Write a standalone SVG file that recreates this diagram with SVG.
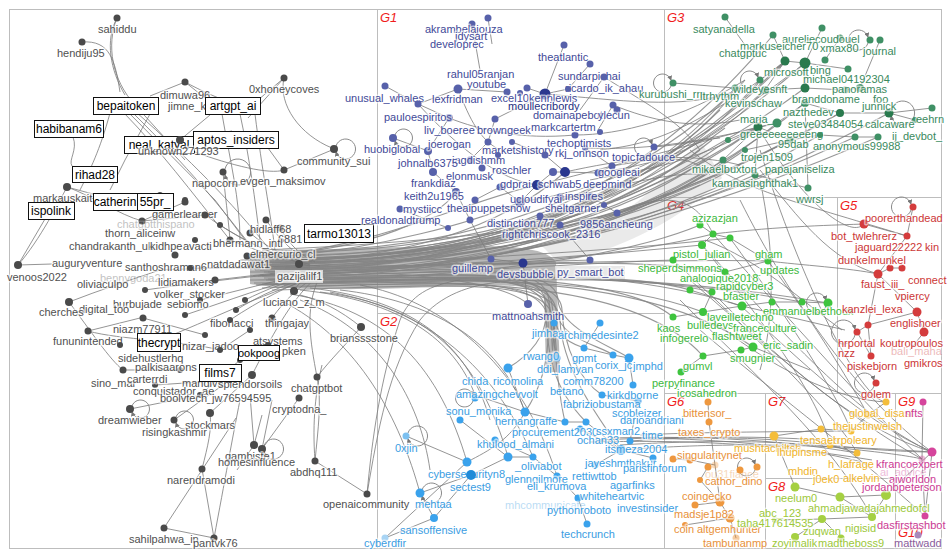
<svg xmlns="http://www.w3.org/2000/svg" width="950" height="557" viewBox="0 0 950 557">
<defs>
<marker id="ar" viewBox="0 0 6 6" refX="5" refY="3" markerWidth="5" markerHeight="5" markerUnits="userSpaceOnUse" orient="auto"><path d="M0,0L6,3L0,6z" fill="#777"/></marker>
</defs>
<style>
.frame{fill:none;stroke:#bdbdbd;stroke-width:1}
.gl{font-family:"Liberation Sans",Arial,sans-serif;font-size:13px;font-style:italic;fill:#f01c1c;stroke:none}
.e{fill:none;stroke:#7a7a7a;stroke-width:1;stroke-opacity:.8}
.b{fill:none;stroke:#858585;stroke-width:1.1;stroke-opacity:.85}
.lp{fill:none;stroke:#8a8a8a;stroke-width:1;marker-end:url(#ar)}
text{font-family:"Liberation Sans",Arial,sans-serif;font-size:11px;paint-order:stroke;stroke:#fff;stroke-opacity:.6;stroke-width:3px;stroke-linejoin:round}
.c0{fill:#4a4a4a}.t0{fill:#505050}
.c1{fill:#5761aa}.c1d{fill:#2a378e}.t1{fill:#3f4a98}
.c2{fill:#3aa2ec}.t2{fill:#3a9de2}
.c3{fill:#3f9065}.c3d{fill:#2a7a4e}.t3{fill:#3a8a5e}
.c4{fill:#3ec43e}.t4{fill:#3cb83c}
.c5{fill:#d43c3c}.t5{fill:#cc3636}
.c6{fill:#ee983f}.t6{fill:#e8913a}
.c7{fill:#f4bd3a}.t7{fill:#efb42b}
.c8{fill:#a5d042}.t8{fill:#9cc83a}
.c9{fill:#d5459c}.t9{fill:#cc3a94}
.c10{fill:#a88abb}.t10{fill:#8a5c9c}
.bx rect{fill:#fff;stroke:#111;stroke-width:1}
.bx text{fill:#000;font-size:12px;stroke:none;text-anchor:middle}
.f{opacity:.35}
.hl{fill:#e4e4e4;fill-opacity:.85}
.dense{fill:#8a8a8a}
</style>
<rect width="950" height="557" fill="#fff"/>

<g id="groups">
<rect class="frame" x="9.5" y="9.5" width="932" height="539"/>
<path class="frame" d="M377.5,9.5V548.5M377.5,313.5H664.5M664.5,9.5V548.5M664.5,197.5H941.5M837.5,197.5V393.5M664.5,393.5H941.5M765.5,393.5V548.5M765.5,478.5H895.5M895.5,393.5V548.5M895.5,523.5H941.5"/>
<text class="gl" x="380" y="22">G1</text>
<text class="gl" x="380" y="326">G2</text>
<text class="gl" x="667" y="22">G3</text>
<text class="gl" x="667" y="210">G4</text>
<text class="gl" x="840" y="210">G5</text>
<text class="gl" x="667" y="406">G6</text>
<text class="gl" x="768" y="406">G7</text>
<text class="gl" x="768" y="491">G8</text>
<text class="gl" x="898" y="406">G9</text>
<text class="gl" x="898" y="537">G10</text>
</g>

<g id="connectors">
<path class="dense" fill-opacity=".6" d="M250,255 C330,248 420,246 480,246 C520,246 548,250 556,262 L560,372 L546,372 L544,292 C530,282 470,286 410,288 C340,290 290,290 250,284 Z"/>
<path class="dense" fill-opacity=".18" d="M540,244 C600,236 650,200 700,140 L722,178 C680,222 620,248 560,264 Z"/>
<!-- bundle to G3 -->
<path class="b" d="M262,258 C420,262 590,235 700,150"/>
<path class="b" d="M258,262 C420,266 600,232 712,140"/>
<path class="b" d="M265,255 C430,258 600,225 725,128"/>
<path class="b" d="M270,266 C430,268 610,238 740,165"/>
<path class="b" d="M255,270 C420,270 600,240 705,175"/>
<path class="b" d="M275,260 C440,262 620,220 758,127"/>
<path class="b" d="M268,272 C430,270 620,230 785,62"/>
<path class="b" d="M280,263 C440,265 630,215 805,63"/>
<path class="b" d="M250,265 C420,262 620,240 840,113"/>
<path class="b" d="M262,276 C430,274 640,250 889,113"/>
<path class="b" d="M272,250 C430,255 600,215 733,92"/>
<path class="b" d="M285,268 C440,266 620,235 745,80"/>
<path class="b" d="M240,260 C400,262 590,232 700,185"/>
<path class="b" d="M290,258 C450,260 610,220 720,110"/>
<path class="b" d="M246,268 C410,270 600,246 723,160"/>
<path class="b" d="M278,278 C440,276 630,246 777,123"/>
<path class="b" d="M252,252 C420,256 610,228 765,90"/>
<path class="b" d="M294,274 C450,272 640,238 805,103"/>
<path class="b" d="M258,258 C425,260 605,230 728,140"/>
<path class="b" d="M264,272 C430,272 615,242 745,150"/>
<path class="b" d="M272,264 C435,266 612,232 758,127"/>
<path class="b" d="M248,262 C415,264 598,236 705,160"/>
<path class="b" d="M282,258 C445,260 622,222 785,61"/>
<path class="b" d="M260,266 C425,268 610,236 790,140"/>
<path class="b" d="M276,272 C440,272 630,246 820,135"/>
<path class="b" d="M254,276 C420,276 612,250 855,137"/>
<path class="b" d="M286,262 C450,262 628,232 840,113"/>
<path class="b" d="M266,256 C430,258 616,226 805,88"/>
<path class="b" d="M256,264 C422,266 606,238 735,88"/>
<path class="b" d="M274,268 C438,268 618,240 760,80"/>
<path class="b" d="M284,272 C446,272 632,244 878,137"/>
<path class="b" d="M244,266 C412,268 602,242 755,175"/>
<path class="b" d="M268,260 C432,262 612,230 773,35"/>
<!-- bundle to G4 -->
<path class="b" d="M262,268 C430,270 600,255 702,245"/>
<path class="b" d="M270,274 C430,272 610,260 713,234"/>
<path class="b" d="M258,276 C420,276 600,262 673,260"/>
<path class="b" d="M276,270 C440,272 620,265 741,306"/>
<path class="b" d="M266,280 C430,278 620,268 802,302"/>
<path class="b" d="M282,276 C450,276 640,270 828,303"/>
<path class="b" d="M254,283 C420,281 600,272 703,312"/>
<path class="b" d="M286,266 C450,268 640,258 768,261"/>
<path class="b" d="M260,262 C430,264 620,250 730,238"/>
<path class="b" d="M270,280 C435,280 612,262 700,225"/>
<path class="b" d="M262,284 C430,282 610,266 690,290"/>
<path class="b" d="M278,284 C445,284 626,270 712,292"/>
<path class="b" d="M250,272 C420,272 600,252 725,272"/>
<path class="b" d="M290,280 C455,280 640,270 753,347"/>
<path class="b" d="M264,278 C430,278 615,268 673,317"/>
<path class="b" d="M280,282 C445,282 630,275 703,356"/>
<!-- bundle to G1 -->
<path class="b" d="M260,270 C380,268 460,262 523,263"/>
<path class="b" d="M270,262 C380,262 450,258 491,259"/>
<path class="b" d="M280,270 C400,268 520,262 590,260"/>
<path class="b" d="M265,258 C380,250 480,220 520,202"/>
<path class="b" d="M275,255 C380,245 470,200 537,185"/>
<path class="b" d="M285,262 C400,258 500,230 565,172"/>
<path class="b" d="M255,256 C380,250 440,215 456,192"/>
<path class="b" d="M290,272 C400,270 500,280 528,304"/>
<path class="b" d="M262,250 C360,246 520,235 617,213"/>
<!-- bundle to G2 -->
<path class="b" d="M260,275 C430,272 545,255 549,300 C552,330 553,345 557,358"/>
<path class="b" d="M268,279 C430,276 548,262 552,305 C555,330 560,340 584,348"/>
<path class="b" d="M256,285 C430,280 540,265 546,310 C548,335 530,355 508,368"/>
<path class="b" d="M274,282 C440,280 552,268 556,310 C560,340 600,345 613,355"/>
<path class="b" d="M280,276 C440,274 556,260 558,300 C560,330 620,350 629,358"/>
<path class="b" d="M262,288 C430,284 544,270 548,320 C550,360 540,390 525,412"/>
<path class="b" d="M272,290 C440,286 550,275 553,320 C556,370 560,400 565,422"/>
<path class="b" d="M284,286 C450,284 557,275 560,320 C562,370 600,420 621,450"/>
<path class="b" d="M250,280 C420,278 542,262 545,300 C548,340 545,380 586,422"/>
<path class="b" d="M288,280 C450,278 560,268 562,310 C564,350 580,380 602,395"/>
<path class="b" d="M266,284 C430,282 547,266 550,310 C553,350 552,370 554,323"/>
<!-- arcs from G0 into G2 -->
<path class="e" d="M300,290 C400,300 455,340 475,395"/>
<path class="e" d="M310,288 C420,300 470,350 490,420"/>
<path class="e" d="M320,292 C430,305 480,360 508,457"/>
<path class="e" d="M290,294 C390,310 440,370 467,462"/>
<path class="e" d="M330,292 C440,312 500,380 533,457"/>
<path class="e" d="M300,300 C380,330 420,400 430,470"/>
<path class="e" d="M280,300 C360,340 400,420 420,493"/>
<path class="e" d="M360,285 C440,300 520,360 557,476"/>
<path class="e" d="M340,290 C430,300 500,340 525,412"/>
<path class="e" d="M367,494 C372,440 380,380 400,320 C410,295 430,285 460,280"/>
<path class="e" d="M367,494 C378,430 388,370 420,320 C440,295 470,285 500,282"/>
<!-- fan in left cluster -->
<path class="e" d="M220,225 C250,245 280,258 310,262"/>
<path class="e" d="M230,240 C260,252 285,260 310,264"/>
<path class="e" d="M266,220 C280,240 295,255 312,262"/>
<path class="e" d="M280,228 C290,245 300,255 315,262"/>
<path class="e" d="M250,233 C270,250 290,258 310,265"/>
<path class="e" d="M299,264 L320,266"/>
<path class="e" d="M294,291 C300,280 310,275 320,272"/>
<path class="e" d="M272,318 C285,300 300,285 318,276"/>
<path class="e" d="M245,300 C265,290 290,280 315,274"/>
<path class="e" d="M236,310 C260,295 290,282 315,276"/>
<path class="e" d="M205,215 C240,240 280,258 310,266"/>
<path class="e" d="M190,268 C230,268 270,268 310,268"/>
<path class="e" d="M215,280 C250,276 280,272 312,270"/>
<path class="e" d="M200,300 C240,290 280,280 312,272"/>
<path class="e" d="M185,315 C230,300 270,285 312,274"/>
<path class="e" d="M230,320 C260,300 290,285 314,276"/>
<path class="e" d="M160,270 C210,268 260,266 310,266"/>
<path class="e" d="M145,290 C200,282 260,276 310,270"/>
<path class="e" d="M160,340 C210,320 260,295 314,278"/>
<path class="e" d="M317,377 C310,340 305,310 318,280"/>
<path class="e" d="M252,375 C270,340 290,300 316,278"/>
<!-- G0 top -->
<path class="e" d="M117,18 C105,40 110,70 125,95"/>
<path class="e" d="M117,18 C106,45 112,80 135,105 L185,160"/>
<path class="e" d="M82,42 C110,40 115,60 120,92"/>
<path class="e" d="M128,112 L215,200 L245,240"/>
<path class="e" d="M132,112 C170,150 200,180 250,245"/>
<path class="e" d="M124,113 C160,150 190,190 230,240"/>
<path class="e" d="M136,112 C190,160 230,200 270,250"/>
<path class="e" d="M185,82 L150,96"/>
<path class="e" d="M185,82 L205,98"/>
<path class="e" d="M185,82 C200,90 220,100 240,105"/>
<path class="e" d="M150,114 L125,160 L110,190"/>
<path class="e" d="M110,113 C100,150 90,170 80,190"/>
<path class="e" d="M284,78 L258,100"/>
<path class="e" d="M284,78 C278,105 300,135 332,148"/>
<path class="e" d="M284,78 L248,118"/>
<path class="e" d="M284,170 L268,148"/>
<path class="e" d="M284,170 L332,150"/>
<path class="e" d="M284,170 C270,175 230,165 195,152"/>
<path class="e" d="M180,140 L210,115"/>
<path class="e" d="M180,140 L232,131"/>
<path class="e" d="M240,114 C250,160 255,200 260,240"/>
<path class="e" d="M222,114 C230,160 240,200 240,240"/>
<path class="e" d="M255,114 C262,170 270,210 275,250"/>
<path class="e" d="M223,172 C225,195 228,215 230,240"/>
<path class="e" d="M73,137 C78,150 68,160 72,166"/>
<path class="e" d="M18,265 L45,219"/>
<path class="e" d="M18,265 L52,264"/>
<path class="e" d="M18,265 C40,240 60,200 67,187"/>
<path class="e" d="M67,187 L115,200"/>
<path class="e" d="M67,187 C90,195 120,215 142,221"/>
<path class="e" d="M142,221 L185,202"/>
<path class="e" d="M142,221 L205,215"/>
<path class="e" d="M69,302 C100,290 130,280 160,270"/>
<path class="e" d="M88,331 L140,318"/>
<path class="e" d="M88,331 C120,340 180,340 220,350"/>
<path class="e" d="M69,302 C90,330 110,360 123,370"/>
<path class="e" d="M143,318 L205,335"/>
<path class="e" d="M123,370 L180,370"/>
<path class="e" d="M155,385 L230,380"/>
<path class="e" d="M200,395 L240,360"/>
<path class="e" d="M130,409 L200,395"/>
<path class="e" d="M174,420 L230,380"/>
<path class="e" d="M210,413 L252,375"/>
<path class="e" d="M220,350 L250,330"/>
<path class="e" d="M240,360 L268,345"/>
<!-- G0 bottom -->
<path class="e" d="M202,469 C208,445 212,430 210,413"/>
<path class="e" d="M164,528 L236,418"/>
<path class="e" d="M214,538 L202,469"/>
<path class="e" d="M164,528 L214,538"/>
<path class="e" d="M214,538 C225,480 232,440 240,400"/>
<path class="e" d="M254,445 L250,395"/>
<path class="e" d="M254,445 L262,415"/>
<path class="e" d="M262,449 L272,400"/>
<path class="e" d="M299,398 L262,449"/>
<path class="e" d="M237,470 L254,445"/>
<path class="e" d="M315,461 C318,430 322,400 317,377"/>
<path class="e" d="M315,461 C312,420 316,390 322,365"/>
<path class="e" d="M315,461 L367,494"/>
<path class="e" d="M317,377 C330,360 350,340 361,327"/>
<path class="e" d="M361,327 C340,310 320,300 300,295"/>
<!-- G1 internal -->
<path class="e" d="M472,24 L480,70 M488,18 L492,44 M458,89 L418,104 M458,89 L507,92 M385,86 L418,104 M418,104 L449,118 M449,118 L428,151 M393,138 L428,151 M428,151 L433,172 M433,172 L456,192 M564,45 L545,94 M590,64 L568,89 M604,77 L580,110 M545,94 L527,88 M545,94 L568,89 M545,94 L495,119 M613,105 L598,130 M495,119 L488,142 M488,142 L470,160 M512,142 L545,155 M545,155 L565,172 M565,172 L553,172 M553,172 L537,185 M537,185 L520,202 M520,202 L500,187 M500,187 L475,200 M612,166 L598,173 M598,173 L565,172 M617,213 L590,196 M590,196 L560,197 M400,209 L448,228 M523,263 L491,259 M528,304 L523,263 M590,260 L560,225 M585,148 L612,166 M470,220 L491,259 M456,192 L470,220 M458,89 C470,120 480,140 500,150 M449,118 C480,130 520,140 575,135 M418,104 C460,150 500,180 537,185"/>
<!-- G1 to G3 -->
<path class="e" d="M654,147 C680,145 700,140 720,138"/>
<path class="e" d="M565,172 C620,160 680,150 740,165"/>
<path class="e" d="M537,185 C600,170 670,150 758,127"/>
<path class="e" d="M520,202 C600,190 680,160 805,63"/>
<path class="e" d="M545,94 C620,100 680,110 733,92"/>
<path class="e" d="M604,77 C640,100 680,120 700,150"/>
<path class="e" d="M613,105 C650,120 690,130 740,120"/>
<path class="e" d="M600,150 C640,145 680,140 785,62"/>
<path class="e" d="M612,166 C650,160 690,150 710,175"/>
<path class="e" d="M590,180 C640,170 690,165 758,127"/>
<path class="e" d="M560,200 C620,185 680,170 705,175"/>
<path class="e" d="M617,213 C650,200 690,185 713,234"/>
<path class="e" d="M585,148 C640,150 690,145 777,123"/>
<path class="e" d="M598,173 C640,165 700,160 765,90"/>
<path class="e" d="M575,135 C620,135 680,120 745,80"/>
<path class="e" d="M673,83 L735,88"/>
<!-- G3 internal -->
<path class="e" d="M725,17 L745,45 M773,35 L785,61 M822,28 L805,63 M840,38 L825,60 M880,40 L860,88 M785,61 L805,63 M805,63 L848,69 M805,63 L805,88 M785,61 L765,90 M765,90 L735,88 M765,90 L805,88 M805,88 L845,90 M845,90 L860,88 M805,103 L840,113 M840,113 L889,113 M889,113 L932,108 M889,113 L915,120 M758,127 L777,123 M777,123 L805,103 M758,127 L790,140 M790,140 L820,135 M820,135 L855,137 M855,137 L878,137 M758,127 L755,175 M723,160 L758,127 M755,175 L808,188 M808,188 L805,103 M760,80 L785,61 M728,140 L758,127 M745,150 L790,140"/>
<!-- G3/G4 to G5, G4 down -->
<path class="e" d="M760,170 C800,220 830,260 878,274"/>
<path class="e" d="M758,127 C800,200 850,240 864,224"/>
<path class="e" d="M713,234 C780,226 840,225 864,224"/>
<path class="e" d="M768,261 C800,265 850,268 878,274"/>
<path class="e" d="M705,240 C760,260 800,300 842,330"/>
<path class="e" d="M742,306 L845,330"/>
<path class="e" d="M760,180 C775,250 775,320 760,370"/>
<path class="e" d="M690,150 C740,190 790,200 907,236"/>
<path class="e" d="M702,245 C780,330 860,420 932,452"/>
<path class="e" d="M713,234 C790,320 870,410 922,459"/>
<path class="e" d="M673,260 C760,340 840,420 857,453"/>
<path class="e" d="M741,306 C800,360 860,420 932,452"/>
<path class="e" d="M703,312 C770,370 840,400 886,402"/>
<path class="e" d="M690,280 C770,350 850,420 922,459"/>
<path class="e" d="M720,300 C790,370 860,430 932,452"/>
<path class="e" d="M700,330 C770,390 840,440 925,516"/>
<path class="e" d="M680,300 C760,380 830,440 872,517"/>
<path class="e" d="M740,200 C790,300 860,400 932,452"/>
<path class="e" d="M760,150 C800,280 860,400 886,402"/>
<path class="e" d="M730,238 C790,320 840,400 851,431"/>
<path class="e" d="M702,245 C770,330 820,400 830,445"/>
<path class="e" d="M768,261 C820,330 860,400 868,415"/>
<!-- G2/G6 band to G9 -->
<path class="e" d="M600,440 C680,436 760,436 830,445 C870,450 910,452 932,452"/>
<path class="e" d="M620,445 C700,440 780,440 840,448 C880,452 910,456 922,459"/>
<path class="e" d="M640,435 C700,432 760,432 851,431"/>
<path class="e" d="M610,438 C690,436 770,438 857,453"/>
<path class="e" d="M590,442 C680,440 760,442 872,460"/>
<path class="e" d="M650,438 C720,440 790,444 862,462"/>
<path class="e" d="M621,450 C700,444 780,442 932,452"/>
<path class="e" d="M630,441 C700,436 760,436 820,440"/>
<!-- G2 internal -->
<path class="e" d="M406,436 L467,462 M420,493 L434,518 M434,518 L385,538 M385,538 L467,462 M434,518 L471,475 M420,493 L471,475 M467,462 C490,450 510,440 525,412 M471,475 L508,457 M508,457 L533,457 M533,457 L557,476 M557,476 L578,498 M578,498 L587,524 M565,422 L586,422 M586,422 L621,450 M602,395 L638,401 M584,348 L613,355 M613,355 L629,358 M525,412 L565,422 M629,358 L633,385 M508,368 L525,412 M595,465 L621,450 M554,323 L557,358 M600,323 L584,348 M475,395 L525,412 M460,420 L508,457 M495,440 L533,457 M580,429 L621,450 M621,450 L653,458 M638,401 L630,441"/>
<!-- G4 internal -->
<path class="e" d="M702,245 L713,234 M713,234 L730,238 M730,238 L768,261 M742,306 L772,302 M772,302 L802,302 M802,302 L828,303 M703,312 L742,306 M673,317 L703,312 M703,356 L741,350 M741,350 L753,347 M681,372 L703,356 M753,347 L810,370 M725,272 L768,261 M690,290 L742,306 M712,292 L703,312 M700,225 L713,234"/>
<!-- G5 internal -->
<path class="e" d="M913,207 L907,236 M864,224 L907,236 M907,236 L878,274 M878,274 L890,268 M890,268 L902,268 M878,274 L917,312 M917,312 L924,332 M868,325 L857,332 M871,356 L868,325 M878,274 L868,325 M868,325 L917,312 M857,332 L871,356 M924,332 L910,350"/>
<!-- G6 internal -->
<path class="e" d="M708,402 L709,422 M709,422 L715,465 M715,465 L720,502 M720,502 L730,518 M730,518 L736,538 M673,459 L690,460 M690,460 L715,465 M708,467 L700,480 M700,480 L720,502 M695,505 L720,502 M685,525 L730,518"/>
<!-- G7 / G8 / G9 internal -->
<path class="e" d="M886,402 L868,415 M868,415 L851,431 M821,429 L774,436 M821,429 L851,431 M795,487 L840,497 M840,497 L886,495 M886,495 L872,517 M872,517 L822,519 M822,519 L795,537 M841,538 L822,519 M923,402 L922,459 M922,459 L925,516 M932,452 L925,516 M857,453 L830,445 M886,495 L932,452 M840,497 L872,517 M774,436 L795,487 M822,519 L775,520"/>
<!-- self loops -->
<path class="lp" d="M336,146 A10,10 0 1,1 336,152"/>
<path class="lp" d="M395,135 A9,9 0 1,1 395,141"/>
<path class="lp" d="M652,150 A9,9 0 1,1 652,144"/>
<path class="lp" d="M671,86 A9,9 0 1,1 671,80"/>
<path class="lp" d="M891,110 A12,12 0 1,1 891,116"/>
<path class="lp" d="M868,43 A10,10 0 1,1 868,37"/>
<path class="lp" d="M758,83 A9,9 0 1,1 758,77"/>
<path class="lp" d="M911,210 A10,10 0 1,1 911,204"/>
<path class="lp" d="M874,386 A10,10 0 1,1 874,380"/>
<path class="lp" d="M826,306 A10,10 0 1,1 826,300"/>
<path class="lp" d="M855,335 A12,12 0 1,1 855,329"/>
<path class="lp" d="M132,406 A9,9 0 1,1 132,412"/>
<path class="lp" d="M176,417 A9,9 0 1,1 176,423"/>
<path class="lp" d="M264,446 A10,10 0 1,1 264,452"/>
<path class="lp" d="M408,433 A10,10 0 1,1 408,439"/>
<path class="lp" d="M422,490 A10,10 0 1,1 422,496"/>
<path class="lp" d="M755,470 A9,9 0 1,1 755,464"/>
<path class="lp" d="M225,169 A13,13 0 1,1 225,175"/>
<path class="lp" d="M473,401 A9,9 0 1,1 473,395"/>
</g>

<g id="nodes">
<!-- G0 unboxed -->
<g id="n-sahiddu"><circle class="c0" cx="117" cy="18" r="3.5"/><text class="t0" x="98" y="33">sahiddu</text></g>
<g id="n-hendiju95"><circle class="c0" cx="82" cy="42" r="3.5"/><text class="t0" x="57" y="57">hendiju95</text></g>
<g id="n-dimuwa96"><circle class="c0" cx="185" cy="82" r="3.5"/><text class="t0" x="160" y="99">dimuwa96</text></g>
<g id="n-jimne"><text class="t0" x="168" y="110">jimne_k</text></g>
<g id="n-0xhoneycoves"><circle class="c0" cx="284" cy="78" r="3.5"/><text class="t0" x="249" y="93">0xhoneycoves</text></g>
<g id="n-community_sui"><circle class="c0" cx="334" cy="149" r="4"/><text class="t0" x="297" y="165">community_sui</text></g>
<g id="n-evgen_maksimov"><circle class="c0" cx="284" cy="170" r="3.5"/><text class="t0" x="240" y="185">evgen_maksimov</text></g>
<g id="n-napocorn"><circle class="c0" cx="223" cy="172" r="3.5"/><text class="t0" x="192" y="187">napocorn</text></g>
<g id="n-markauskait"><text class="t0" x="33" y="202">markauskait</text></g>
<g id="n-gamerlearner"><circle class="c0" cx="142" cy="221" r="3.5"/><text class="t0" x="152" y="218">gamerlearner</text></g>
<g id="n-chatgptthispano" class="f"><text class="t0" x="117" y="228">chatgptthispano</text></g>
<g id="n-thorn"><circle class="c0" cx="205" cy="215" r="3.5"/><text class="t0" x="105" y="237">thorn_aliceinw</text></g>
<g id="n-hidlaff68"><circle class="c0" cx="266" cy="220" r="3.5"/><circle class="c0" cx="280" cy="228" r="3.5"/><circle class="c0" cx="250" cy="233" r="3.5"/><text class="t0" x="250" y="233">hidlaff68</text></g>
<g id="n-6881"><text class="t0" x="278" y="243">6881</text></g>
<g id="n-chandrakanth"><circle class="c0" cx="220" cy="225" r="3"/><text class="t0" x="69" y="250">chandrakanth_uk</text></g>
<g id="n-kidhpe"><circle class="c0" cx="160" cy="195" r="3"/><text class="t0" x="150" y="250">kidhpe</text></g>
<g id="n-avacti"><circle class="c0" cx="185" cy="200" r="3"/><text class="t0" x="183" y="250">avacti</text></g>
<g id="n-bhermann"><circle class="c0" cx="230" cy="240" r="3.5"/><text class="t0" x="213" y="247">bhermann_intl</text></g>
<g id="n-elmercurio"><circle class="c0" cx="247" cy="256" r="3.5"/><text class="t0" x="250" y="258">elmercurio_cl</text></g>
<g id="n-natdadawat1"><circle class="c0" cx="195" cy="240" r="3"/><text class="t0" x="207" y="268">natdadawat1</text></g>
<g id="n-auguryventure"><text class="t0" x="52" y="267">auguryventure</text></g>
<g id="n-venoos2022"><circle class="c0" cx="18" cy="265" r="4"/><text class="t0" x="7" y="281">venoos2022</text></g>
<g id="n-santhoshraman6"><circle class="c0" cx="175" cy="255" r="3.5"/><text class="t0" x="125" y="271">santhoshraman6</text></g>
<g id="n-gazijalilf1"><circle class="c0" cx="299" cy="264" r="4"/><rect class="hl" x="275" y="270" width="48" height="13"/><text class="t0" x="277" y="280">gazijalilf1</text></g>
<g id="n-bennygoda21" class="f"><text class="t0" x="100" y="282">bennygoda21</text></g>
<g id="n-lidiamakers"><circle class="c0" cx="190" cy="268" r="3"/><text class="t0" x="158" y="286">lidiamakers</text></g>
<g id="n-oliviaculpo"><circle class="c0" cx="145" cy="290" r="3"/><text class="t0" x="77" y="288">oliviaculpo</text></g>
<g id="n-volker"><circle class="c0" cx="215" cy="280" r="3.5"/><text class="t0" x="154" y="298">volker_stocker</text></g>
<g id="n-luciano"><circle class="c0" cx="294" cy="291" r="4"/><text class="t0" x="263" y="306">luciano_z_m</text></g>
<g id="n-burbujade"><circle class="c0" cx="200" cy="300" r="3"/><text class="t0" x="113" y="308">burbujade</text></g>
<g id="n-sebiomo"><circle class="c0" cx="245" cy="300" r="3"/><text class="t0" x="167" y="308">sebiomo</text></g>
<g id="n-digital_too"><circle class="c0" cx="143" cy="318" r="3.5"/><text class="t0" x="79" y="313">digital_too</text></g>
<g id="n-cherches"><circle class="c0" cx="69" cy="302" r="4"/><text class="t0" x="39" y="316">cherches</text></g>
<g id="n-fibonacci"><circle class="c0" cx="236" cy="310" r="3"/><text class="t0" x="210" y="327">fibonacci</text></g>
<g id="n-thingajay"><circle class="c0" cx="272" cy="318" r="3.5"/><text class="t0" x="265" y="327">thingajay</text></g>
<g id="n-niazm77911"><circle class="c0" cx="185" cy="315" r="3"/><text class="t0" x="113" y="333">niazm77911</text></g>
<g id="n-fununintended"><circle class="c0" cx="88" cy="331" r="3.5"/><text class="t0" x="53" y="345">fununintended</text></g>
<g id="n-nizar"><circle class="c0" cx="205" cy="335" r="3"/><text class="t0" x="182" y="350">nizar_jadoo</text></g>
<g id="n-atsystems"><circle class="c0" cx="250" cy="330" r="3"/><circle class="c0" cx="230" cy="320" r="3"/><text class="t0" x="253" y="345">atsystems</text></g>
<g id="n-pken"><circle class="c0" cx="268" cy="345" r="3"/><text class="t0" x="282" y="355">pken</text></g>
<g id="n-sidehustlerhq"><circle class="c0" cx="160" cy="340" r="3"/><text class="t0" x="118" y="362">sidehustlerhq</text></g>
<g id="n-palkisaarons"><circle class="c0" cx="123" cy="370" r="3.5"/><circle class="c0" cx="180" cy="370" r="3"/><text class="t0" x="135" y="371">palkisaarons</text></g>
<g id="n-sino_mar"><circle class="c0" cx="120" cy="345" r="3"/><text class="t0" x="91" y="387">sino_mar</text></g>
<g id="n-carterrdi"><circle class="c0" cx="155" cy="385" r="3"/><text class="t0" x="127" y="383">carterrdi</text></g>
<g id="n-mandivs"><circle class="c0" cx="220" cy="350" r="3"/><text class="t0" x="182" y="387">mandivs</text></g>
<g id="n-splendorsoils"><circle class="c0" cx="252" cy="375" r="4"/><text class="t0" x="218" y="388">splendorsoils</text></g>
<g id="n-conquistador"><circle class="c0" cx="230" cy="380" r="3"/><text class="t0" x="133" y="395">conquistador_ae</text></g>
<g id="n-boolvtech"><circle class="c0" cx="200" cy="395" r="3"/><text class="t0" x="160" y="402">boolvtech_</text></g>
<g id="n-jw76594595"><circle class="c0" cx="240" cy="360" r="3"/><text class="t0" x="212" y="402">jw76594595</text></g>
<g id="n-chatgptbot"><circle class="c0" cx="317" cy="377" r="3.5"/><text class="t0" x="291" y="392">chatgptbot</text></g>
<g id="n-cryptodna"><circle class="c0" cx="299" cy="398" r="3.5"/><text class="t0" x="272" y="413">cryptodna_</text></g>
<g id="n-dreamwieber"><circle class="c0" cx="130" cy="409" r="4"/><text class="t0" x="98" y="424">dreamwieber</text></g>
<g id="n-stockmars"><circle class="c0" cx="210" cy="413" r="4"/><text class="t0" x="185" y="429">stockmars</text></g>
<g id="n-risingkashmir"><circle class="c0" cx="174" cy="420" r="3.5"/><text class="t0" x="142" y="436">risingkashmir</text></g>
<g id="n-gambiste1"><circle class="c0" cx="254" cy="445" r="4"/><circle class="c0" cx="262" cy="449" r="4"/><text class="t0" x="225" y="460">gambiste1</text></g>
<g id="n-homesinfluence"><text class="t0" x="218" y="466">homesinfluence</text></g>
<g id="n-abdhq111"><circle class="c0" cx="315" cy="461" r="3.5"/><text class="t0" x="290" y="476">abdhq111</text></g>
<g id="n-openaicommunity"><circle class="c0" cx="367" cy="494" r="3.5"/><text class="t0" x="323" y="508">openaicommunity</text></g>
<g id="n-narendramodi"><circle class="c0" cx="202" cy="469" r="3.5"/><text class="t0" x="167" y="484">narendramodi</text></g>
<g id="n-sahilpahwa"><circle class="c0" cx="164" cy="528" r="3.5"/><text class="t0" x="129" y="543">sahilpahwa_in</text></g>
<g id="n-pantvk76"><circle class="c0" cx="214" cy="538" r="3.5"/><text class="t0" x="193" y="547">pantvk76</text></g>
<g id="n-briansssstone"><circle class="c0" cx="361" cy="327" r="4"/><text class="t0" x="330" y="342">briansssstone</text></g>
<!-- G0 boxed -->
<g id="n-bepaitoken" class="bx"><rect x="93.5" y="97.5" width="65" height="17"/><text x="126" y="110">bepaitoken</text></g>
<g id="n-artgpt_ai" class="bx"><rect x="205.5" y="97.5" width="55" height="17"/><text x="233" y="110">artgpt_ai</text></g>
<g id="n-habibanam6" class="bx"><rect x="34.5" y="120.5" width="69" height="17"/><text x="69" y="133">habibanam6</text></g>
<g id="n-neal_katyal" class="bx"><rect x="124.5" y="136.5" width="70" height="17"/><text x="159" y="149">neal_katyal</text><circle class="c0" cx="180" cy="140" r="4"/></g>
<g id="n-aptos_insiders" class="bx"><rect x="193.5" y="131.5" width="85" height="17"/><text x="236" y="144">aptos_insiders</text></g>
<g id="n-unknown271293"><text class="t0" x="138" y="155">unknown271293</text></g>
<g id="n-rihad28" class="bx"><circle class="c0" cx="67" cy="187" r="4"/><rect x="72.5" y="166.5" width="45" height="16"/><text x="95" y="179">rihad28</text></g>
<g id="n-ispolink" class="bx"><rect x="28.5" y="202.5" width="46" height="17"/><text x="51" y="215">ispolink</text></g>
<g id="n-catherin" class="bx"><rect x="93.5" y="193.5" width="44" height="17"/><text x="115" y="206">catherin</text></g>
<g id="n-55pr" class="bx"><rect x="137.5" y="193.5" width="36" height="17"/><text x="155" y="206">55pr_</text><circle class="c0" cx="185" cy="202" r="3.5"/></g>
<g id="n-tarmo13013" class="bx"><rect x="304.5" y="224.5" width="69" height="18"/><text x="339" y="238">tarmo13013</text></g>
<g id="n-thecrypt" class="bx"><rect x="137.5" y="333.5" width="43" height="18"/><text x="159" y="347">thecrypt</text></g>
<g id="n-films7" class="bx"><rect x="199.5" y="364.5" width="42" height="17"/><text x="220" y="377">films7</text></g>
<g id="n-ookpoog" class="bx"><rect x="238.5" y="345.5" width="41" height="15"/><text x="259" y="357" style="font-size:11px">ookpoog</text></g>

<!-- G1 -->
<g id="n-akrambelajouza"><circle class="c1" cx="472" cy="24" r="3.5"/><circle class="c1" cx="488" cy="18" r="3.5"/><text class="t1" x="425" y="33">akrambelajouza</text></g>
<g id="n-jdysart"><text class="t1" x="455" y="40">jdysart</text></g>
<g id="n-developrec"><text class="t1" x="430" y="48">developrec</text></g>
<g id="n-theatlantic"><circle class="c1" cx="564" cy="45" r="3.5"/><text class="t1" x="538" y="61">theatlantic</text></g>
<g id="n-rahul05ranjan"><circle class="c1" cx="458" cy="89" r="4.5"/><text class="t1" x="447" y="78">rahul05ranjan</text></g>
<g id="n-sundarpichai"><circle class="c1" cx="590" cy="64" r="3.5"/><text class="t1" x="558" y="80">sundarpichai</text></g>
<g id="n-youtube"><text class="t1" x="467" y="88">youtube</text></g>
<g id="n-ricardo"><circle class="c1" cx="604" cy="77" r="3.5"/><text class="t1" x="565" y="92">ricardo_ik_ahau</text></g>
<g id="n-unusual_whales"><circle class="c1" cx="385" cy="86" r="3.5"/><text class="t1" x="345" y="102">unusual_whales</text></g>
<g id="n-lexfridman"><circle class="c1" cx="418" cy="104" r="3.5"/><text class="t1" x="432" y="103">lexfridman</text></g>
<g id="n-excel10"><circle class="c1" cx="507" cy="92" r="3.5"/><circle class="c1" cx="520" cy="93" r="3"/><text class="t1" x="491" y="102">excel10</text></g>
<g id="n-kennlewis"><circle class="c1d" cx="545" cy="94" r="5.5"/><circle class="c1" cx="527" cy="88" r="3.5"/><circle class="c1" cx="568" cy="89" r="3"/><text class="t1" x="529" y="102">kennlewis</text></g>
<g id="n-moullecribordy"><text class="t1" style="fill:#24307f" x="508" y="110">moullecribordy</text></g>
<g id="n-pauloespiritos"><circle class="c1" cx="449" cy="118" r="4"/><text class="t1" x="384" y="121">pauloespiritos</text></g>
<g id="n-domainapebot"><circle class="c1" cx="613" cy="105" r="3.5"/><text class="t1" x="533" y="119">domainapebot</text></g>
<g id="n-ylecun"><circle class="c1" cx="617" cy="110" r="3.5"/><text class="t1" x="598" y="119">ylecun</text></g>
<g id="n-liv_boeree"><text class="t1" x="424" y="134">liv_boeree</text></g>
<g id="n-browngeek"><circle class="c1" cx="495" cy="119" r="3.5"/><text class="t1" x="477" y="134">browngeek</text></g>
<g id="n-markcartertm"><circle class="c1" cx="575" cy="135" r="3.5"/><text class="t1" x="531" y="131">markcartertm</text></g>
<g id="n-huobiglobal"><circle class="c1" cx="393" cy="138" r="4"/><text class="t1" x="364" y="153">huobiglobal</text></g>
<g id="n-joerogan"><circle class="c1" cx="428" cy="151" r="4"/><text class="t1" x="428" y="148">joerogan</text></g>
<g id="n-techoptimists"><circle class="c1" cx="600" cy="132" r="3"/><circle class="c1" cx="585" cy="148" r="3"/><text class="t1" x="547" y="147">techoptimists</text></g>
<g id="n-marketshistory"><circle class="c1" cx="488" cy="142" r="3.5"/><circle class="c1" cx="512" cy="142" r="3"/><text class="t1" x="482" y="154">marketshistory</text></g>
<g id="n-rkj_onnson"><circle class="c1" cx="545" cy="155" r="3.5"/><text class="t1" x="555" y="157">rkj_onnson</text></g>
<g id="n-topic"><text class="t1" x="612" y="161">topic</text></g>
<g id="n-fadouce"><circle class="c1" cx="654" cy="147" r="3.5"/><text class="t1" x="636" y="161">fadouce</text></g>
<g id="n-jagdishmm"><circle class="c1" cx="470" cy="160" r="3.5"/><text class="t1" x="452" y="164">jagdishmm</text></g>
<g id="n-johnalb6375"><circle class="c1" cx="482" cy="168" r="3.5"/><text class="t1" x="398" y="167">johnalb6375</text></g>
<g id="n-roschler"><circle class="c1" cx="498" cy="155" r="3"/><text class="t1" x="492" y="174">roschler</text></g>
<g id="n-googleai"><circle class="c1" cx="612" cy="166" r="3.5"/><circle class="c1" cx="598" cy="173" r="3.5"/><text class="t1" x="598" y="176">googleai</text></g>
<g id="n-elonmusk"><text class="t1" x="446" y="180">elonmusk</text></g>
<g id="n-frankdiaz"><circle class="c1" cx="433" cy="172" r="4"/><text class="t1" x="411" y="187">frankdiaz</text></g>
<g id="n-gdprai"><circle class="c1" cx="500" cy="187" r="3.5"/><text class="t1" x="500" y="188">gdprai</text></g>
<g id="n-schwab5"><circle class="c1d" cx="565" cy="172" r="5"/><circle class="c1" cx="553" cy="172" r="4"/><circle class="c1d" cx="537" cy="185" r="5"/><text class="t1" x="538" y="188">schwab5</text></g>
<g id="n-deepmind"><text class="t1" x="583" y="188">deepmind</text></g>
<g id="n-keith2u1965"><circle class="c1" cx="456" cy="192" r="4"/><text class="t1" x="404" y="200">keith2u1965</text></g>
<g id="n-inspires"><circle class="c1" cx="560" cy="197" r="3.5"/><circle class="c1" cx="590" cy="196" r="3.5"/><text class="t1" x="565" y="200">inspires</text></g>
<g id="n-ucloudifyai"><circle class="c1d" cx="520" cy="202" r="5"/><text class="t1" x="510" y="203">ucloudifyai</text></g>
<g id="n-theaipuppetsnow"><circle class="c1" cx="475" cy="200" r="3.5"/><text class="t1" x="447" y="212">theaipuppetsnow</text></g>
<g id="n-sheltgarner"><circle class="c1" cx="617" cy="213" r="3.5"/><text class="t1" x="545" y="212">sheltgarner</text></g>
<g id="n-mystiicc"><circle class="c1" cx="400" cy="209" r="3.5"/><text class="t1" x="403" y="213">mystiicc</text></g>
<g id="n-realdonaldtrump"><circle class="c1" cx="448" cy="228" r="3"/><text class="t1" x="361" y="224">realdonaldtrump</text></g>
<g id="n-distinction777"><circle class="c1" cx="470" cy="220" r="3.5"/><text class="t1" x="487" y="227">distinction777</text></g>
<g id="n-9856ancheung"><circle class="c1" cx="604" cy="205" r="3"/><text class="t1" x="580" y="228">9856ancheung</text></g>
<g id="n-rightchriscook"><circle class="c1" cx="540" cy="216" r="3.5"/><circle class="c1" cx="560" cy="225" r="3.5"/><text class="t1" x="502" y="238">rightchriscook_2316</text></g>
<g id="n-guillemp"><circle class="c1" cx="491" cy="259" r="3.5"/><text class="t1" x="452" y="272">guillemp</text></g>
<g id="n-devsbubble"><circle class="c1d" cx="523" cy="263" r="4.5"/><text class="t1" x="497" y="278">devsbubble</text></g>
<g id="n-py_smart_bot"><circle class="c1" cx="590" cy="260" r="3.5"/><rect class="hl" x="555" y="266" width="70" height="13"/><text class="t1" x="557" y="276">py_smart_bot</text></g>
<g id="n-mattnoahsmith"><circle class="c1" cx="528" cy="304" r="4"/><text class="t1" x="492" y="320">mattnoahsmith</text></g>

<!-- G2 -->
<g id="n-jimhaw"><circle class="c2" cx="554" cy="323" r="3.5"/><text class="t2" x="532" y="337">jimhaw</text></g>
<g id="n-archimedesinte2"><circle class="c2" cx="600" cy="323" r="3.5"/><text class="t2" x="558" y="339">archimedesinte2</text></g>
<g id="n-rwang0"><circle class="c2" cx="557" cy="358" r="3.5"/><text class="t2" x="523" y="360">rwang0</text></g>
<g id="n-gpmt"><circle class="c2" cx="584" cy="348" r="3.5"/><text class="t2" x="572" y="362">gpmt</text></g>
<g id="n-corix_jc"><circle class="c2" cx="613" cy="355" r="3.5"/><text class="t2" x="595" y="369">corix_jc</text></g>
<g id="n-jmphd"><circle class="c2" cx="629" cy="358" r="4.5"/><text class="t2" x="633" y="370">jmphd</text></g>
<g id="n-ddi_lamyan"><circle class="c2" cx="508" cy="368" r="4.5"/><text class="t2" x="537" y="373">ddi_lamyan</text></g>
<g id="n-chida"><text class="t2" x="462" y="385">chida</text></g>
<g id="n-ricomolina"><text class="t2" x="493" y="385">ricomolina</text></g>
<g id="n-comm78200"><circle class="c2" cx="633" cy="385" r="3.5"/><text class="t2" x="563" y="385">comm78200</text></g>
<g id="n-betano"><text class="t2" x="550" y="395">betano</text></g>
<g id="n-amazingchevvolt"><circle class="c2" cx="475" cy="398" r="3.5"/><text class="t2" x="456" y="398">amazingchevvolt</text></g>
<g id="n-kirkdborne"><circle class="c2" cx="638" cy="401" r="3.5"/><circle class="c2" cx="602" cy="395" r="3.5"/><text class="t2" x="607" y="399">kirkdborne</text></g>
<g id="n-fabrizio"><text class="t2" x="563" y="408">fabriziobustama</text></g>
<g id="n-sonu_monika"><circle class="c2" cx="525" cy="412" r="4.5"/><text class="t2" x="446" y="415">sonu_monika</text></g>
<g id="n-scobleizer"><text class="t2" x="612" y="417">scobleizer</text></g>
<g id="n-hernangraffe"><circle class="c2" cx="565" cy="422" r="3.5"/><circle class="c2" cx="586" cy="422" r="3.5"/><text class="t2" x="495" y="425">hernangraffe</text></g>
<g id="n-darioandriani"><text class="t2" x="620" y="424">darioandriani</text></g>
<g id="n-procurement2030"><circle class="c2" cx="580" cy="429" r="3.5"/><text class="t2" x="512" y="436">procurement2030</text></g>
<g id="n-ssxman2"><circle class="c2" cx="630" cy="441" r="3.5"/><text class="t2" x="596" y="435">ssxman2</text></g>
<g id="n-time"><text class="t2" x="642" y="439">time</text></g>
<g id="n-ochan33"><text class="t2" x="577" y="444">ochan33</text></g>
<g id="n-khulood"><circle class="c2" cx="460" cy="420" r="3.5"/><circle class="c2" cx="495" cy="440" r="3.5"/><text class="t2" x="477" y="448">khulood_almani</text></g>
<g id="n-itsmeza2004"><circle class="c2" cx="621" cy="450" r="5"/><text class="t2" x="605" y="453">itsmeza2004</text></g>
<g id="n-jayeshmthakur"><circle class="c2" cx="595" cy="465" r="3.5"/><circle class="c2" cx="653" cy="458" r="3.5"/><text class="t2" x="585" y="467">jayeshmthakur</text></g>
<g id="n-oliviabot"><circle class="c2" cx="533" cy="457" r="3.5"/><text class="t2" x="515" y="470">_oliviabot</text></g>
<g id="n-parisfinforum"><text class="t2" x="623" y="472">parisfinforum</text></g>
<g id="n-cybersecurityn8"><circle class="c2" cx="467" cy="462" r="4.5"/><text class="t2" x="428" y="478">cybersecurityn8</text></g>
<g id="n-rettiwttob"><circle class="c2" cx="557" cy="476" r="3.5"/><text class="t2" x="572" y="480">rettiwttob</text></g>
<g id="n-glenngilmore"><circle class="c2" cx="508" cy="457" r="4.5"/><text class="t2" x="505" y="483">glenngilmore</text></g>
<g id="n-eli_krumova"><text class="t2" x="527" y="490">eli_krumova</text></g>
<g id="n-agarfinks"><text class="t2" x="610" y="489">agarfinks</text></g>
<g id="n-sectest9"><circle class="c2" cx="471" cy="475" r="5" style="fill:#1f8ad8"/><text class="t2" x="450" y="491">sectest9</text></g>
<g id="n-whiteheartvic"><circle class="c2" cx="578" cy="498" r="3.5"/><text class="t2" x="580" y="500">whiteheartvic</text></g>
<g id="n-0xjin"><circle class="c2" cx="406" cy="436" r="3.5" style="fill:#7cc0f0"/><text class="t2" x="395" y="452">0xjin</text></g>
<g id="n-mehtaa"><circle class="c2" cx="420" cy="493" r="4.5"/><text class="t2" x="415" y="508">mehtaa</text></g>
<g id="n-mhcommunicate" class="f"><text class="t2" x="505" y="509">mhcommunicate</text></g>
<g id="n-investinsider"><text class="t2" x="617" y="512">investinsider</text></g>
<g id="n-pythonroboto"><text class="t2" x="547" y="514">pythonroboto</text></g>
<g id="n-sansoffensive"><circle class="c2" cx="434" cy="518" r="4"/><text class="t2" x="400" y="534">sansoffensive</text></g>
<g id="n-techcrunch"><circle class="c2" cx="587" cy="524" r="3.5"/><text class="t2" x="561" y="538">techcrunch</text></g>
<g id="n-cyberdfir"><circle class="c2" cx="385" cy="538" r="3.5" style="fill:#a8d4f4"/><text class="t2" x="364" y="547">cyberdfir</text></g>

<!-- G3 -->
<g id="n-satyanadella"><circle class="c3" cx="725" cy="17" r="3.5"/><text class="t3" x="693" y="33">satyanadella</text></g>
<g id="n-aureliecoudouel"><circle class="c3" cx="773" cy="35" r="3.5"/><circle class="c3" cx="822" cy="28" r="3.5"/><circle class="c3" cx="840" cy="38" r="3.5"/><text class="t3" x="782" y="43">aureliecoudouel</text></g>
<g id="n-markuseicher70"><text class="t3" x="740" y="50">markuseicher70</text></g>
<g id="n-xmax80"><circle class="c3" cx="825" cy="60" r="3.5"/><text class="t3" x="820" y="52">xmax80</text></g>
<g id="n-journal"><circle class="c3" cx="870" cy="40" r="3.5"/><circle class="c3" cx="880" cy="40" r="3.5"/><text class="t3" x="863" y="55">journal</text></g>
<g id="n-chatgptuc"><text class="t3" x="719" y="57">chatgptuc</text></g>
<g id="n-microsoft"><circle class="c3d" cx="785" cy="61" r="4.5"/><text class="t3" x="764" y="76">microsoft</text></g>
<g id="n-bing"><circle class="c3d" cx="805" cy="63" r="5.5"/><circle class="c3" cx="848" cy="69" r="3.5"/><text class="t3" x="810" y="74">bing</text></g>
<g id="n-michael04192304"><circle class="c3" cx="845" cy="90" r="3.5"/><circle class="c3" cx="860" cy="88" r="4"/><text class="t3" x="803" y="83">michael04192304</text></g>
<g id="n-wildeyesnft"><circle class="c3" cx="760" cy="80" r="3.5"/><circle class="c3" cx="735" cy="88" r="3.5"/><circle class="c3d" cx="765" cy="90" r="4"/><text class="t3" x="733" y="93">wildeyesnft</text></g>
<g id="n-panoramas"><circle class="c3d" cx="805" cy="88" r="4.5"/><text class="t3" x="832" y="93">panoramas</text></g>
<g id="n-kurubushi"><circle class="c3" cx="673" cy="83" r="3.5"/><text class="t3" x="639" y="98">kurubushi_rm</text></g>
<g id="n-ltrhythm"><text class="t3" x="700" y="100">ltrhythm</text></g>
<g id="n-kevinschaw"><circle class="c3" cx="728" cy="140" r="3"/><text class="t3" x="725" y="107">kevinschaw</text></g>
<g id="n-branddoname"><circle class="c3" cx="805" cy="103" r="4"/><text class="t3" x="792" y="103">branddoname</text></g>
<g id="n-foo"><text class="t3" x="873" y="103">foo</text></g>
<g id="n-junnick"><circle class="c3d" cx="889" cy="113" r="4.5"/><text class="t3" x="862" y="110">junnick</text></g>
<g id="n-eehrn"><circle class="c3" cx="932" cy="108" r="3.5"/><circle class="c3" cx="915" cy="120" r="3"/><text class="t3" x="916" y="123">eehrn</text></g>
<g id="n-nazthedev"><circle class="c3d" cx="840" cy="113" r="4"/><text class="t3" x="783" y="116">nazthedev</text></g>
<g id="n-maria"><circle class="c3d" cx="758" cy="127" r="4.5"/><text class="t3" x="740" y="123">maria_</text></g>
<g id="n-steve03484054"><circle class="c3" cx="777" cy="123" r="4.5"/><text class="t3" x="788" y="128">steve03484054</text></g>
<g id="n-calcaware"><circle class="c3" cx="855" cy="137" r="3.5"/><circle class="c3" cx="878" cy="137" r="3.5"/><text class="t3" x="865" y="128">calcaware</text></g>
<g id="n-greeeng"><circle class="c3" cx="790" cy="140" r="3.5"/><text class="t3" x="740" y="138">greeeeeeeeeeng</text></g>
<g id="n-ij_devbot"><text class="t3" x="892" y="140">ij_devbot_</text></g>
<g id="n-95dab"><circle class="c3" cx="820" cy="135" r="3"/><text class="t3" x="778" y="148">95dab</text></g>
<g id="n-anonymous99988"><text class="t3" x="813" y="150">anonymous99988</text></g>
<g id="n-trojen1509"><circle class="c3" cx="723" cy="160" r="3.5"/><circle class="c3" cx="745" cy="150" r="3"/><text class="t3" x="741" y="161">trojen1509</text></g>
<g id="n-mikaelbuxton"><circle class="c3" cx="755" cy="175" r="3.5"/><text class="t3" x="692" y="173">mikaelbuxton</text></g>
<g id="n-papajaniseliza"><text class="t3" x="765" y="173">papajaniseliza</text></g>
<g id="n-kamnasinghthak1"><text class="t3" x="712" y="187">kamnasinghthak1</text></g>
<g id="n-wwrsj"><circle class="c3" cx="808" cy="188" r="3.5"/><text class="t3" x="796" y="203">wwrsj</text></g>

<!-- G4 -->
<g id="n-azizazjan"><circle class="c4" cx="700" cy="225" r="3.5"/><text class="t4" x="692" y="222">azizazjan</text></g>
<g id="n-pistol_julian"><circle class="c4" cx="713" cy="234" r="3.5"/><circle class="c4" cx="730" cy="238" r="3.5"/><text class="t4" x="673" y="258">pistol_julian</text></g>
<g id="n-gham"><circle class="c4" cx="768" cy="261" r="3.5"/><text class="t4" x="755" y="258">gham</text></g>
<g id="n-sheperdsimmons"><circle class="c4" cx="702" cy="245" r="4"/><text class="t4" x="638" y="272">sheperdsimmons</text></g>
<g id="n-updates"><circle class="c4" cx="725" cy="272" r="3.5"/><text class="t4" x="754" y="274">_updates</text></g>
<g id="n-analogique2018"><circle class="c4" cx="673" cy="260" r="3.5"/><text class="t4" x="680" y="282">analogique2018</text></g>
<g id="n-rapidcyber3"><circle class="c4" cx="712" cy="292" r="3.5"/><text class="t4" x="716" y="290">rapidcyber3</text></g>
<g id="n-bfastier"><circle class="c4" cx="690" cy="290" r="3.5"/><text class="t4" x="723" y="300">bfastier</text></g>
<g id="n-emmanuelbethoux"><circle class="c4" cx="802" cy="302" r="3.5"/><circle class="c4" cx="828" cy="303" r="4.5"/><circle class="c4" cx="772" cy="302" r="3.5"/><text class="t4" x="763" y="315">emmanuelbethoux</text></g>
<g id="n-laveilletechno"><circle class="c4" cx="742" cy="306" r="4.5"/><text class="t4" x="707" y="321">laveilletechno</text></g>
<g id="n-bulledevs"><circle class="c4" cx="703" cy="312" r="4"/><text class="t4" x="687" y="329">bulledevs</text></g>
<g id="n-kaos"><circle class="c4" cx="673" cy="317" r="3.5"/><text class="t4" x="657" y="332">kaos</text></g>
<g id="n-franceculture"><text class="t4" x="733" y="332">franceculture</text></g>
<g id="n-flashtweet"><circle class="c4" cx="703" cy="356" r="3.5"/><text class="t4" x="712" y="340">flashtweet</text></g>
<g id="n-infogerelo"><text class="t4" x="660" y="342">infogerelo</text></g>
<g id="n-eric_sadin"><circle class="c4" cx="753" cy="347" r="4.5"/><circle class="c4" cx="741" cy="350" r="3.5"/><text class="t4" x="763" y="349">eric_sadin</text></g>
<g id="n-smugnier"><text class="t4" x="730" y="362">smugnier</text></g>
<g id="n-gumvl"><circle class="c4" cx="681" cy="372" r="3.5"/><text class="t4" x="683" y="370">gumvl</text></g>
<g id="n-perpyfinance"><text class="t4" x="652" y="387">perpyfinance</text></g>
<g id="n-icosahedron"><text class="t4" x="677" y="397">icosahedron</text></g>

<!-- G5 -->
<g id="n-poorerthandead"><circle class="c5" cx="864" cy="224" r="4.5"/><circle class="c5" cx="913" cy="207" r="3.5"/><text class="t5" x="865" y="222">poorerthandead</text></g>
<g id="n-bot_twlehrerz"><circle class="c5" cx="907" cy="236" r="3.5"/><text class="t5" x="831" y="240">bot_twlehrerz</text></g>
<g id="n-jaguard22222"><text class="t5" x="855" y="251">jaguard22222</text></g>
<g id="n-kin"><text class="t5" x="925" y="251">kin</text></g>
<g id="n-dunkelmunkel"><circle class="c5" cx="878" cy="274" r="4.5"/><circle class="c5" cx="890" cy="268" r="3.5"/><circle class="c5" cx="902" cy="268" r="3.5"/><text class="t5" x="838" y="264">dunkelmunkel</text></g>
<g id="n-connect"><text class="t5" x="908" y="284">connect</text></g>
<g id="n-faust_iii"><text class="t5" x="861" y="288">faust_iii_</text></g>
<g id="n-vpiercy"><text class="t5" x="895" y="300">vpiercy</text></g>
<g id="n-kanzlei_lexa"><circle class="c5" cx="868" cy="325" r="3.5"/><text class="t5" x="842" y="313">kanzlei_lexa</text></g>
<g id="n-englishoer"><circle class="c5" cx="917" cy="312" r="4.5"/><text class="t5" x="890" y="327">englishoer</text></g>
<g id="n-hrportal"><circle class="c5" cx="857" cy="332" r="3.5"/><text class="t5" x="838" y="347">hrportal</text></g>
<g id="n-koutropoulos"><circle class="c5" cx="924" cy="332" r="4.5"/><text class="t5" x="880" y="347">koutropoulos</text></g>
<g id="n-bali_maha" class="f"><text class="t5" x="891" y="355">bali_maha</text></g>
<g id="n-nzz"><text class="t5" x="838" y="357">nzz</text></g>
<g id="n-gmikros"><text class="t5" x="904" y="367">gmikros</text></g>
<g id="n-piskebjorn"><circle class="c5" cx="871" cy="356" r="3.5"/><text class="t5" x="847" y="370">piskebjorn</text></g>
<g id="n-golem"><circle class="c5" cx="876" cy="383" r="3.5"/><text class="t5" x="861" y="398">golem</text></g>

<!-- G6 -->
<g id="n-bittensor"><circle class="c6" cx="708" cy="402" r="3.5"/><text class="t6" x="683" y="417">bittensor_</text></g>
<g id="n-taxes_crypto"><circle class="c6" cx="709" cy="422" r="3.5"/><text class="t6" x="678" y="436">taxes_crypto</text></g>
<g id="n-singularitynet"><circle class="c6" cx="673" cy="459" r="3.5"/><circle class="c6" cx="690" cy="460" r="3.5"/><text class="t6" x="677" y="459">singularitynet</text></g>
<g id="n-ou31fiance" class="f"><circle class="c6" cx="715" cy="465" r="3.5"/><text class="t6" x="705" y="478">ou31fiance</text></g>
<g id="n-cathor_dino"><circle class="c6" cx="708" cy="467" r="3.5"/><circle class="c6" cx="740" cy="470" r="3.5"/><circle class="c6" cx="757" cy="467" r="3.5"/><text class="t6" x="705" y="485">cathor_dino</text></g>
<g id="n-coingecko"><circle class="c6" cx="700" cy="480" r="3"/><circle class="c6" cx="720" cy="502" r="4.5"/><text class="t6" x="682" y="500">coingecko</text></g>
<g id="n-madsje1p82"><circle class="c6" cx="695" cy="505" r="3.5"/><circle class="c6" cx="730" cy="518" r="4.5"/><text class="t6" x="674" y="518">madsje1p82</text></g>
<g id="n-coin"><circle class="c6" cx="685" cy="525" r="3"/><text class="t6" x="674" y="533">coin</text></g>
<g id="n-altgemhunter"><circle class="c6" cx="736" cy="538" r="3.5" style="opacity:.5"/><text class="t6" x="697" y="533">altgemhunter</text></g>
<g id="n-tambunanmp"><text class="t6" x="703" y="547">tambunanmp</text></g>

<!-- G7 -->
<g id="n-global_disast"><circle class="c7" cx="886" cy="402" r="3.5"/><circle class="c7" cx="868" cy="415" r="3.5"/><text class="t7" x="849" y="417">global_disast</text></g>
<g id="n-thejustinwelsh"><circle class="c7" cx="821" cy="429" r="3.5"/><circle class="c7" cx="851" cy="431" r="3.5"/><text class="t7" x="833" y="430">thejustinwelsh</text></g>
<g id="n-tensaeb"><circle class="c7" cx="830" cy="445" r="3.5"/><text class="t7" x="800" y="444">tensaeb</text></g>
<g id="n-rpoleary"><text class="t7" x="837" y="444">rpoleary</text></g>
<g id="n-mushtachiltsh"><circle class="c7" cx="774" cy="436" r="4.5"/><text class="t7" x="734" y="452">mushtachiltsh</text></g>
<g id="n-lhupinsme"><text class="t7" x="777" y="456">lhupinsme</text></g>
<g id="n-h_lafrage"><circle class="c7" cx="857" cy="453" r="3.5"/><text class="t7" x="828" y="468">h_lafrage</text></g>
<g id="n-mhdin"><text class="t7" x="788" y="475">mhdin</text></g>
<g id="n-j0ek0"><text class="t7" x="813" y="483">j0ek0</text></g>
<g id="n-alkelvin"><text class="t7" x="843" y="482">alkelvin</text></g>

<!-- G8 -->
<g id="n-neelum0"><circle class="c8" cx="795" cy="487" r="4.5"/><text class="t8" x="775" y="502">neelum0</text></g>
<g id="n-abc_123"><circle class="c8" cx="775" cy="520" r="3"/><text class="t8" x="759" y="517">abc_123</text></g>
<g id="n-ahmadjawad"><circle class="c8" cx="840" cy="497" r="4.5"/><circle class="c8" cx="886" cy="495" r="5"/><text class="t8" x="808" y="512">ahmadjawadajahmedofcl</text></g>
<g id="n-taha"><circle class="c8" cx="822" cy="519" r="4"/><text class="t8" x="737" y="527">taha417614535</text></g>
<g id="n-zuqwan"><text class="t8" x="803" y="535">zuqwan</text></g>
<g id="n-nigisid"><circle class="c8" cx="872" cy="517" r="4"/><text class="t8" x="845" y="532">nigisid</text></g>
<g id="n-zoyimalik"><circle class="c8" cx="795" cy="537" r="4"/><text class="t8" x="772" y="547">zoyimalik</text></g>
<g id="n-madtheboss9"><circle class="c8" cx="841" cy="538" r="3.5"/><text class="t8" x="818" y="547">madtheboss9</text></g>

<!-- G9 / G10 -->
<g id="n-nfts"><circle class="c9" cx="923" cy="402" r="3.5"/><text class="t9" x="905" y="417">nfts</text></g>
<g id="n-kfrancoexpert"><circle class="c9" cx="932" cy="452" r="4.5"/><text class="t9" x="876" y="468">kfrancoexpert</text></g>
<g id="n-ai_advice" class="f"><circle class="c9" cx="922" cy="459" r="3.5"/><text class="t9" x="880" y="476">ai_advice</text></g>
<g id="n-aiworldon"><text class="t9" x="889" y="483">aiworldon</text></g>
<g id="n-jordanbpeterson"><text class="t9" x="862" y="491">jordanbpeterson</text></g>
<g id="n-dasfirstashbot"><circle class="c9" cx="925" cy="516" r="3.5"/><text class="t9" x="877" y="529">dasfirstashbot</text></g>
<g id="n-mattwadd"><circle class="c10" cx="918" cy="535" r="3.5"/><text class="t10" x="894" y="547">mattwadd</text></g>
</g>
</svg>
